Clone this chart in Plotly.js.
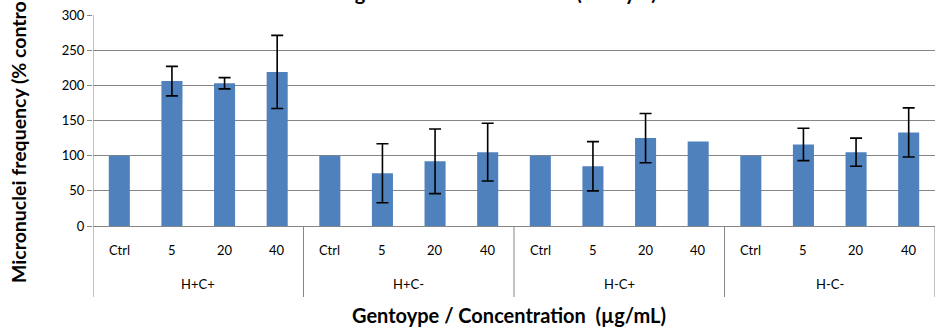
<!DOCTYPE html>
<html>
<head>
<meta charset="utf-8">
<script src="https://cdn.plot.ly/plotly-3.0.1.min.js"></script>
<style>html,body{margin:0;padding:0;background:#fff;}#chart{width:935px;height:327px;}</style>
</head>
<body>
<div id="chart"></div>
<script>
const genotypes = ["H+C+", "H+C-", "H-C+", "H-C-"];
const concentrations = ["Ctrl", "5", "20", "40"];
const meanValues = [
  100, 206, 203, 219,
  100, 75, 92, 105,
  100, 85, 125, 120,
  100, 116, 105, 133
];
const errorValues = [
  null, 21, 8, 52,
  null, 42, 46, 41,
  null, 35, 35, null,
  null, 23, 20, 35
];
const chartTitle = "Following the Incubation Session (at day 7)";
const yTitle = "Micronuclei frequency (% control)";
const xTitle = "Gentoype / Concentration  (µg/mL)";

const outer = [], inner = [];
genotypes.forEach(g => concentrations.forEach(c => { outer.push(g); inner.push(c); }));

// points that carry an error bar
const eOuter = [], eInner = [], eY = [], eArr = [];
errorValues.forEach((e, i) => {
  if (e !== null) { eOuter.push(outer[i]); eInner.push(inner[i]); eY.push(meanValues[i]); eArr.push(e); }
});

const font = "Lato, 'Open Sans', sans-serif";
const grey = "#868686";
const W = 935, H = 327, plotLeft = 93, plotTop = 15, plotBottom = 226;
const plotH = plotBottom - plotTop, plotW = W - plotLeft;
const py = px => (plotBottom - px) / plotH;   // pixel row -> paper y
const px = v => (v - plotLeft) / plotW;       // pixel column -> paper x
const nCat = inner.length;

const bars = {
  type: "bar",
  x: [outer, inner],
  y: meanValues,
  marker: {color: "#4F81BD"},
  hoverinfo: "none"
};
const errs = {
  type: "scatter",
  mode: "markers",
  x: [eOuter, eInner],
  y: eY,
  marker: {size: 1, opacity: 0},
  error_y: {type: "data", array: eArr, visible: true, color: "#000", thickness: 1.6, width: 6},
  hoverinfo: "none"
};

const annotations = [];
inner.forEach((c, i) => annotations.push({
  text: c, x: i, xref: "x", y: py(250), yref: "paper",
  xanchor: "center", yanchor: "middle", showarrow: false,
  font: {family: font, size: 13, color: "#000"}
}));
genotypes.forEach((g, k) => annotations.push({
  text: g, x: k * concentrations.length + (concentrations.length - 1) / 2, xref: "x",
  y: py(284), yref: "paper", xanchor: "center", yanchor: "middle", showarrow: false,
  font: {family: font, size: 13, color: "#000"}
}));
annotations.push({
  text: "<b>" + xTitle + "</b>", x: px(509), xref: "paper", y: py(315), yref: "paper",
  xanchor: "center", yanchor: "middle", showarrow: false,
  font: {family: font, size: 20, color: "#000"}
});
annotations.push({
  text: "<b>" + yTitle + "</b>", textangle: -90,
  xref: "paper", yref: "paper", x: px(18), y: py(285),
  xanchor: "center", yanchor: "bottom", showarrow: false,
  font: {family: font, size: 19.5, color: "#000"}
});

const shapes = [];
for (let k = 0; k <= genotypes.length; k++) {
  shapes.push({
    type: "line", xref: "x", yref: "paper",
    x0: k * concentrations.length - 0.5, x1: k * concentrations.length - 0.5,
    y0: k === 0 ? 1 : 0, y1: py(297),
    line: {color: grey, width: 1}
  });
}

const layout = {
  width: W, height: H,
  margin: {l: plotLeft, r: 0, t: plotTop, b: H - plotBottom},
  paper_bgcolor: "#fff", plot_bgcolor: "#fff",
  showlegend: false,
  bargap: 0.6,
  font: {family: font, size: 13, color: "#000"},
  title: {text: chartTitle, font: {family: font, size: 20, weight: "bold"}, x: px(468), xref: "paper", xanchor: "center", y: 1, yref: "container", yanchor: "bottom"},
  xaxis: {
    type: "multicategory",
    range: [-0.5, nCat - 0.5], autorange: false,
    showline: true, linecolor: grey, linewidth: 1,
    showgrid: false, ticks: "", showticklabels: false, showdividers: false
  },
  yaxis: {
    range: [0, 300], dtick: 50, tick0: 0,
    showgrid: true, gridcolor: grey, gridwidth: 1,
    showline: false,
    ticks: "outside", ticklen: 5, tickcolor: grey,
    tickfont: {family: font, size: 13, color: "#000"},
    zeroline: false
  },
  annotations: annotations,
  shapes: shapes
};
Plotly.newPlot("chart", [bars, errs], layout, {staticPlot: true, displayModeBar: false});
</script>
</body>
</html>
